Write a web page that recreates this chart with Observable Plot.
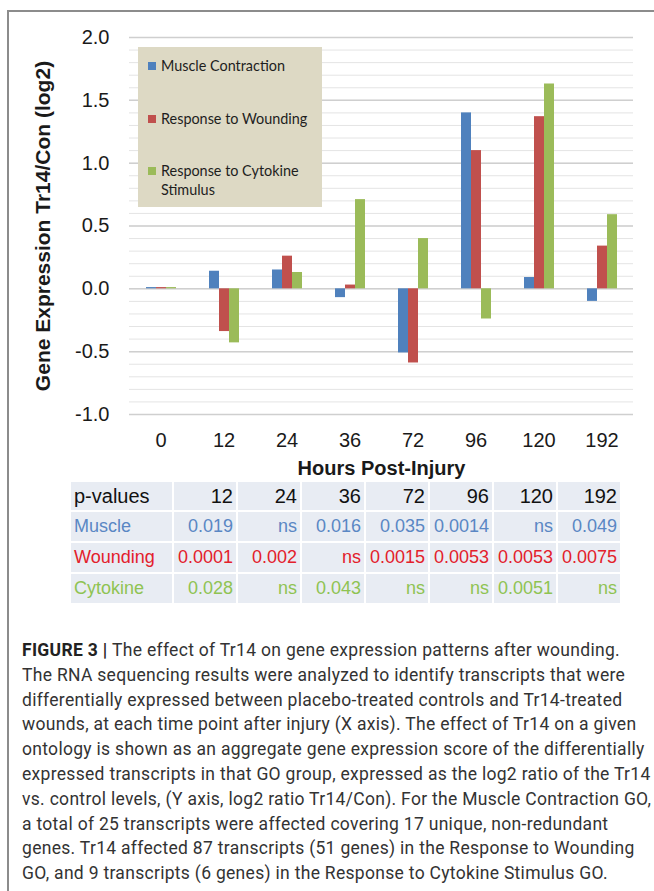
<!DOCTYPE html>
<html>
<head>
<meta charset="utf-8">
<script src="https://cdn.jsdelivr.net/npm/d3@7"></script>
<script src="https://cdn.jsdelivr.net/npm/@observablehq/plot@0.6"></script>
<style>
  html, body { margin: 0; padding: 0; background: #fff; }
  #page { position: relative; width: 654px; height: 891px; overflow: hidden; background: #fff; }
  #frame { position: absolute; left: 7px; top: 10px; width: 800px; height: 1000px;
           border-left: 2px solid #8c8c8c; border-top: 2px solid #8c8c8c; }
  #chart { position: absolute; left: 0; top: 0; }
  #legend { position: absolute; left: 138px; top: 47px; width: 184px; height: 160px;
            background: #ddd9c4; font-family: Lato, "Open Sans", sans-serif; font-size: 14.4px; color: #1e1e1e; }
  .li { position: absolute; left: 10px; line-height: 19px; }
  .sw { display: inline-block; width: 8px; height: 8px; margin-right: 5px; vertical-align: 1px; }
  .indent { display: inline-block; padding-left: 13px; }
  #ptable { position: absolute; left: 69px; top: 480px; border-collapse: separate; border-spacing: 2px;
            font-family: "Liberation Sans", Arial, sans-serif; }
  #ptable td { background: #e8ecf3; height: 29px; padding: 0 3px; text-align: right; font-size: 18px; white-space: nowrap; box-sizing: border-box; }
  #ptable td.first { text-align: left; width: 101px; }
  #ptable td.num { width: 62px; }
  #ptable tr.head td { font-size: 20px; color: #111; height: 28px; }
  #caption { position: absolute; left: 22px; top: 638px; font-family: Roboto, "Liberation Sans", sans-serif;
             font-size: 17.5px; letter-spacing: 0.3px; line-height: 24.8px; color: #333; white-space: pre; }
</style>
</head>
<body>
<div id="page">
  <div id="frame"></div>
  <div id="chart"></div>
  <div id="legend"></div>
  <table id="ptable"></table>
  <div id="caption"></div>
</div>
<script>
// ---- data ----
const hours = ["0", "12", "24", "36", "72", "96", "120", "192"];
const seriesNames = ["Muscle Contraction", "Response to Wounding", "Response to Cytokine Stimulus"];
const seriesColors = ["#4f81bd", "#c0504d", "#9bbb59"];
const muscle   = [0.01, 0.14, 0.15, -0.07, -0.51, 1.40, 0.09, -0.10];
const wounding = [0.01, -0.34, 0.26, 0.03, -0.59, 1.10, 1.37, 0.34];
const cytokine = [0.01, -0.43, 0.13, 0.71, 0.40, -0.24, 1.63, 0.59];
const yTicks = [-1.0, -0.5, 0.0, 0.5, 1.0, 1.5, 2.0];

const pHours    = ["12", "24", "36", "72", "96", "120", "192"];
const pRowNames = ["Muscle", "Wounding", "Cytokine"];
const pRowColors = ["#5a87c4", "#e3202b", "#8fc352"];
const pMuscle   = ["0.019", "ns", "0.016", "0.035", "0.0014", "ns", "0.049"];
const pWounding = ["0.0001", "0.002", "ns", "0.0015", "0.0053", "0.0053", "0.0075"];
const pCytokine = ["0.028", "ns", "0.043", "ns", "ns", "0.0051", "ns"];

const captionLines = [
  "The effect of Tr14 on gene expression patterns after wounding.",
  "The RNA sequencing results were analyzed to identify transcripts that were",
  "differentially expressed between placebo-treated controls and Tr14-treated",
  "wounds, at each time point after injury (X axis). The effect of Tr14 on a given",
  "ontology is shown as an aggregate gene expression score of the differentially",
  "expressed transcripts in that GO group, expressed as the log2 ratio of the Tr14",
  "vs. control levels, (Y axis, log2 ratio Tr14/Con). For the Muscle Contraction GO,",
  "a total of 25 transcripts were affected covering 17 unique, non-redundant",
  "genes. Tr14 affected 87 transcripts (51 genes) in the Response to Wounding",
  "GO, and 9 transcripts (6 genes) in the Response to Cytokine Stimulus GO."
];

// ---- build table for Plot ----
const seriesValues = [muscle, wounding, cytokine];
const rows = [];
hours.forEach((h, i) => seriesNames.forEach((s, j) => rows.push({hour: h, series: s, value: seriesValues[j][i]})));

const chart = Plot.plot({
  width: 654,
  height: 490,
  marginLeft: 126,
  marginRight: 18,
  marginTop: 37,
  marginBottom: 76,
  style: {fontFamily: "'Liberation Sans', Arial, sans-serif", fontSize: "20px", color: "#1a1a1a", background: "transparent"},
  fx: {domain: hours, padding: 0},
  x: {domain: seriesNames, axis: null, paddingInner: 0, paddingOuter: 1.5},
  y: {domain: [-1, 2]},
  color: {domain: seriesNames, range: seriesColors},
  marks: [
    Plot.gridY({interval: 0.1, stroke: "#e4e4e4", strokeOpacity: 1}),
    Plot.gridY(yTicks, {stroke: "#cfcfcf", strokeOpacity: 1, strokeWidth: 1.5}),
    Plot.barY(rows, {fx: "hour", x: "series", y: "value", fill: "series", inset: 0}),
    Plot.axisY(yTicks, {tickSize: 0, tickPadding: 20, tickFormat: d => d.toFixed(1),
      label: "Gene Expression Tr14/Con (log2)", labelAnchor: "center", labelOffset: 94, labelArrow: "none"}),
    Plot.axisFx({anchor: "bottom", tickSize: 0, tickPadding: 18, label: "Hours Post-Injury",
      labelAnchor: "center", labelOffset: 60, labelArrow: "none"})
  ]
});
const svg = d3.select(chart);
svg.selectAll('[aria-label="y-axis label"] text').attr("font-weight", "bold").attr("font-size", "21px")
  .each(function() { this.textContent = this.textContent.replace(/[↑↓→←]\s*|\s*[↑↓→←]/g, ""); });
svg.selectAll('[aria-label="fx-axis label"] text').attr("font-weight", "bold")
  .each(function() { this.textContent = this.textContent.replace(/[↑↓→←]\s*|\s*[↑↓→←]/g, ""); });
document.getElementById("chart").appendChild(chart);

// ---- legend ----
const legend = d3.select("#legend");
const legendTops = [9, 62, 114];
seriesNames.forEach((s, i) => {
  const item = legend.append("div").attr("class", "li").style("top", legendTops[i] + "px");
  item.append("span").attr("class", "sw").style("background", seriesColors[i]);
  if (i === 2) {
    item.append("span").text("Response to Cytokine");
    item.append("br");
    item.append("span").attr("class", "indent").text("Stimulus");
  } else {
    item.append("span").text(s);
  }
});

// ---- p-value table ----
const tbl = d3.select("#ptable");
const head = tbl.append("tr").attr("class", "head");
head.append("td").attr("class", "first").text("p-values");
pHours.forEach(h => head.append("td").attr("class", "num").text(h));
[pMuscle, pWounding, pCytokine].forEach((vals, r) => {
  const tr = tbl.append("tr").style("color", pRowColors[r]);
  tr.append("td").attr("class", "first").text(pRowNames[r]);
  vals.forEach(v => tr.append("td").attr("class", "num").text(v));
});

// ---- caption ----
const cap = d3.select("#caption");
captionLines.forEach((line, i) => {
  const div = cap.append("div");
  if (i === 0) {
    div.append("span").style("font-weight", "bold").style("color", "#222").text("FIGURE 3 | ");
  }
  div.append("span").text(line);
});
</script>
</body>
</html>
